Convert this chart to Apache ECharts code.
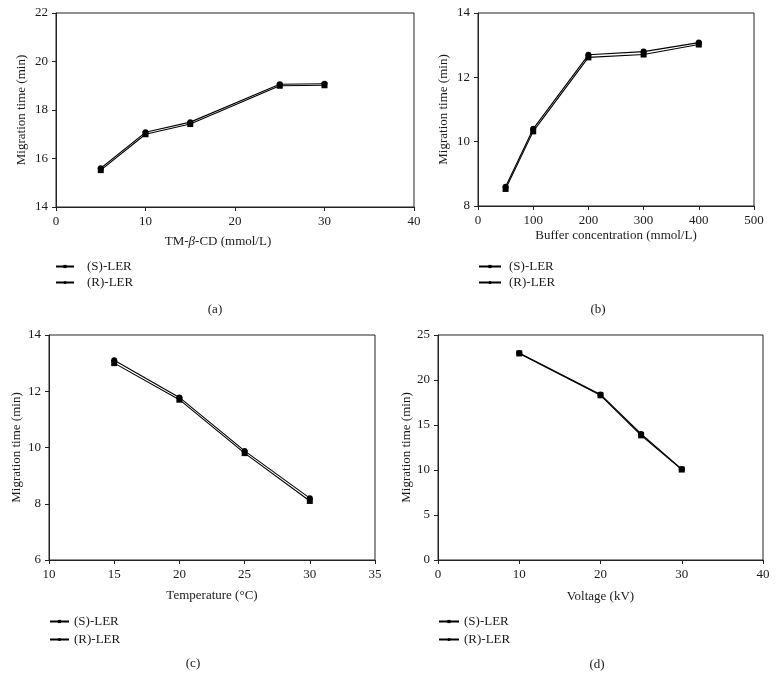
<!DOCTYPE html>
<html>
<head>
<meta charset="utf-8">
<script src="https://cdn.jsdelivr.net/npm/echarts@6/dist/echarts.min.js"></script>
<style>
html,body{margin:0;padding:0;background:#fff;}
#main{width:777px;height:679px;}
</style>
</head>
<body>
<div id="main"></div>
<script>
// ---- data ----
const seriesNames = ['(S)-LER', '(R)-LER'];
// (a) TM-beta-CD concentration
const aX = [5, 10, 15, 25, 30];
const aS = [15.52, 17.0, 17.42, 19.0, 19.02];
const aR = [15.6, 17.08, 17.5, 19.06, 19.08];
// (b) Buffer concentration
const bX = [50, 100, 200, 300, 400];
const bS = [8.53, 10.32, 12.62, 12.71, 13.02];
const bR = [8.6, 10.4, 12.7, 12.8, 13.08];
// (c) Temperature
const cX = [15, 20, 25, 30];
const cS = [13.0, 11.7, 9.8, 8.1];
const cR = [13.1, 11.78, 9.88, 8.2];
// (d) Voltage
const dX = [10, 20, 25, 30];
const dS = [22.95, 18.3, 13.85, 10.05];
const dR = [23.0, 18.4, 14.0, 10.1];
// axis ranges [min, max, interval]
const aXRange = [0, 40, 10], aYRange = [14, 22, 2];
const bXRange = [0, 500, 100], bYRange = [8, 14, 2];
const cXRange = [10, 35, 5], cYRange = [6, 14, 2];
const dXRange = [0, 40, 10], dYRange = [0, 25, 5];
const xNames = ['TM-{i|β}-CD (mmol/L)', 'Buffer concentration (mmol/L)', 'Temperature (°C)', 'Voltage (kV)'];
const yName = 'Migration time (min)';
const panelLabels = ['(a)', '(b)', '(c)', '(d)'];

// ---- layout / style ----
const FONT = 'Liberation Serif';
const TXT = '#1a1a1a';
const AX = '#222';
const grids = [
  {left: 56, top: 13, width: 358, height: 194},
  {left: 478, top: 13, width: 276, height: 193},
  {left: 49, top: 335, width: 326, height: 225},
  {left: 438, top: 335, width: 325, height: 225}
];
const xGaps = [28, 23, 29, 30];
const xPads = [[0, 34, 0, 0], 0, 0, 0];
const yGaps = [28, 28, 26, 25];
const ranges = [[aXRange, aYRange], [bXRange, bYRange], [cXRange, cYRange], [dXRange, dYRange]];
const dataSets = [[aX, aS, aR], [bX, bS, bR], [cX, cS, cR], [dX, dS, dR]];

function axisCommon() {
  return {
    axisLine: {show: true, onZero: false, lineStyle: {color: AX, width: 1}},
    axisTick: {show: true, inside: false, length: 4, lineStyle: {color: AX}},
    axisLabel: {color: TXT, fontFamily: FONT, fontSize: 13, margin: 8},
    splitLine: {show: false}
  };
}

const xAxes = [], yAxes = [], series = [];
for (let i = 0; i < 4; i++) {
  const [xr, yr] = ranges[i];
  xAxes.push(Object.assign(axisCommon(), {
    type: 'value', gridIndex: i, min: xr[0], max: xr[1], interval: xr[2],
    name: xNames[i], nameLocation: 'middle', nameGap: xGaps[i],
    nameTextStyle: {color: TXT, fontFamily: FONT, fontSize: 13, padding: xPads[i],
      rich: {i: {fontStyle: 'italic', fontFamily: FONT, fontSize: 13, color: TXT}}}
  }));
  yAxes.push(Object.assign(axisCommon(), {
    type: 'value', gridIndex: i, min: yr[0], max: yr[1], interval: yr[2],
    name: yName, nameLocation: 'middle', nameGap: yGaps[i],
    nameTextStyle: {color: TXT, fontFamily: FONT, fontSize: 13}
  }));
  const [xs, s, r] = dataSets[i];
  series.push({
    name: seriesNames[0], type: 'line', xAxisIndex: i, yAxisIndex: i,
    data: xs.map((x, k) => [x, s[k]]),
    symbol: 'rect', symbolSize: 6,
    lineStyle: {color: '#000', width: 1.1}, itemStyle: {color: '#000'},
    emphasis: {disabled: true}, animation: false, z: 3
  });
  series.push({
    name: seriesNames[1], type: 'line', xAxisIndex: i, yAxisIndex: i,
    data: xs.map((x, k) => [x, r[k]]),
    symbol: 'circle', symbolSize: 6,
    lineStyle: {color: '#000', width: 1.1}, itemStyle: {color: '#000'},
    emphasis: {disabled: true}, animation: false, z: 3
  });
}

function legend(left, top, itemWidth, padLeft, gap) {
  return {
    data: seriesNames, orient: 'vertical', left: left, top: top, padding: 0,
    itemWidth: itemWidth, itemHeight: 4, itemGap: gap,
    selectedMode: false,
    textStyle: {color: TXT, fontFamily: FONT, fontSize: 13, padding: [0, 0, 0, padLeft]}
  };
}

const labelPos = [[215, 310], [598, 310], [193, 664], [597, 665]];
const graphics = panelLabels.map((t, i) => ({
  type: 'text', x: labelPos[i][0], y: labelPos[i][1],
  style: {text: t, fill: TXT, font: '13px "' + FONT + '"', align: 'center', verticalAlign: 'middle'}
}));

const chart = echarts.init(document.getElementById('main'), null, {renderer: 'canvas'});
chart.setOption({
  animation: false,
  backgroundColor: '#fff',
  grid: grids.map(g => Object.assign({show: true, borderColor: AX, borderWidth: 1, backgroundColor: 'transparent'}, g)),
  xAxis: xAxes,
  yAxis: yAxes,
  legend: [
    legend(55, 260, 18, 8, 3),
    legend(478, 260, 22, 3, 3),
    legend(49, 615, 19, 0, 5),
    legend(438, 615, 20, 0, 5)
  ],
  graphic: graphics,
  series: series
});
</script>
</body>
</html>
